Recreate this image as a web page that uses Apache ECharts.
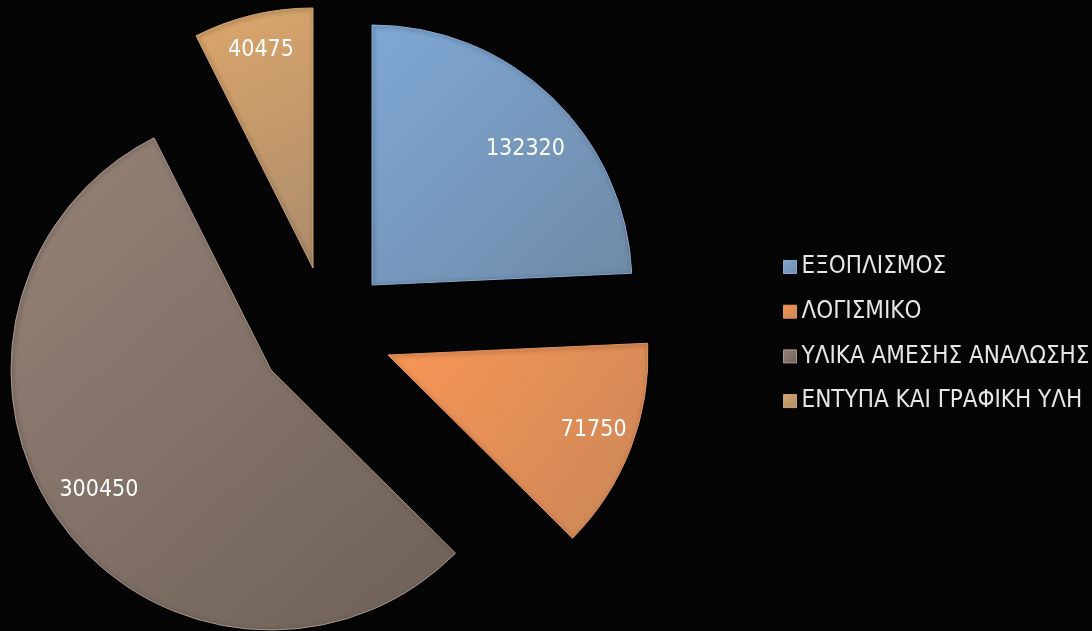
<!DOCTYPE html>
<html>
<head>
<meta charset="utf-8">
<script src="https://cdn.jsdelivr.net/npm/echarts@6/dist/echarts.min.js"></script>
<style>
html,body{margin:0;padding:0;background:#000;}
#chart{width:1092px;height:631px;}
</style>
</head>
<body>
<div id="chart"></div>
<script>
const categories = ['ΕΞΟΠΛΙΣΜΟΣ', 'ΛΟΓΙΣΜΙΚΟ', 'ΥΛΙΚΑ ΑΜΕΣΗΣ ΑΝΑΛΩΣΗΣ', 'ΕΝΤΥΠΑ ΚΑΙ ΓΡΑΦΙΚΗ ΥΛΗ'];
const values = [132320, 71750, 300450, 40475];

const FONT = '"Liberation Sans Narrow", "Arial Narrow", "DejaVu Sans Condensed", sans-serif';
// layout of the exploded pie (pixel centers of each slice apex)
const centers = [[372, 285], [388, 355], [271, 370], [313, 268]];
const labelInner = [152, 192, 142, 184];
const labelShift = [[9, 15], [-8, -7], [-7, 0], [0, 1]];
const R = 260;
const palette = [
  {a: '#7ea8d6', b: '#7089a6', border: '#86aad2'},
  {a: '#f99656', b: '#c98658', border: '#e0925e'},
  {a: '#968277', b: '#6e6158', border: '#a89a92'},
  {a: '#dca66b', b: '#ab8c6c', border: '#cfa474'}
];
function grad(p) {
  return new echarts.graphic.LinearGradient(0, 0, 1, 1, [
    {offset: 0, color: p.a}, {offset: 1, color: p.b}
  ]);
}
const transparent = {color: 'rgba(0,0,0,0)', borderWidth: 0};
const series = [];
categories.forEach((_, i) => {
  series.push({
    type: 'pie',
    center: centers[i],
    radius: [0, R],
    startAngle: 90,
    clockwise: true,
    avoidLabelOverlap: false,
    emphasis: {disabled: true},
    label: {show: false},
    labelLine: {show: false},
    data: categories.map((n, j) => ({
      name: n, value: values[j],
      itemStyle: j === i ? {color: grad(palette[i]), borderColor: palette[i].border, borderWidth: 1,
        shadowColor: 'rgba(0,0,0,0.6)', shadowBlur: 4, shadowOffsetX: 1, shadowOffsetY: 1} : transparent
    }))
  });
});
categories.forEach((_, i) => {
  series.push({
    type: 'pie',
    center: centers[i],
    radius: [labelInner[i], R],
    startAngle: 90,
    clockwise: true,
    silent: true,
    avoidLabelOverlap: false,
    emphasis: {disabled: true},
    labelLine: {show: false},
    labelLayout: {dx: labelShift[i][0], dy: labelShift[i][1]},
    data: categories.map((n, j) => ({
      name: n, value: values[j],
      itemStyle: transparent,
      label: j === i ? {show: true, position: 'inside', formatter: '{c}', color: '#ffffff',
        fontFamily: FONT, fontSize: 23} : {show: false}
    }))
  });
});

const chart = echarts.init(document.getElementById('chart'));
chart.setOption({
  backgroundColor: '#050505',
  animation: false,
  legend: {
    orient: 'vertical',
    left: 783,
    top: 255,
    padding: 0,
    itemWidth: 13,
    itemHeight: 13,
    itemGap: 20.7,
    icon: 'rect',
    textStyle: {color: '#e6e6e6', fontFamily: FONT, fontSize: 24, lineHeight: 24},
    data: categories.map((n, i) => ({
      name: n,
      itemStyle: {color: grad(palette[i]), borderColor: palette[i].border, borderWidth: 1}
    }))
  },
  series: series
});
</script>
</body>
</html>
